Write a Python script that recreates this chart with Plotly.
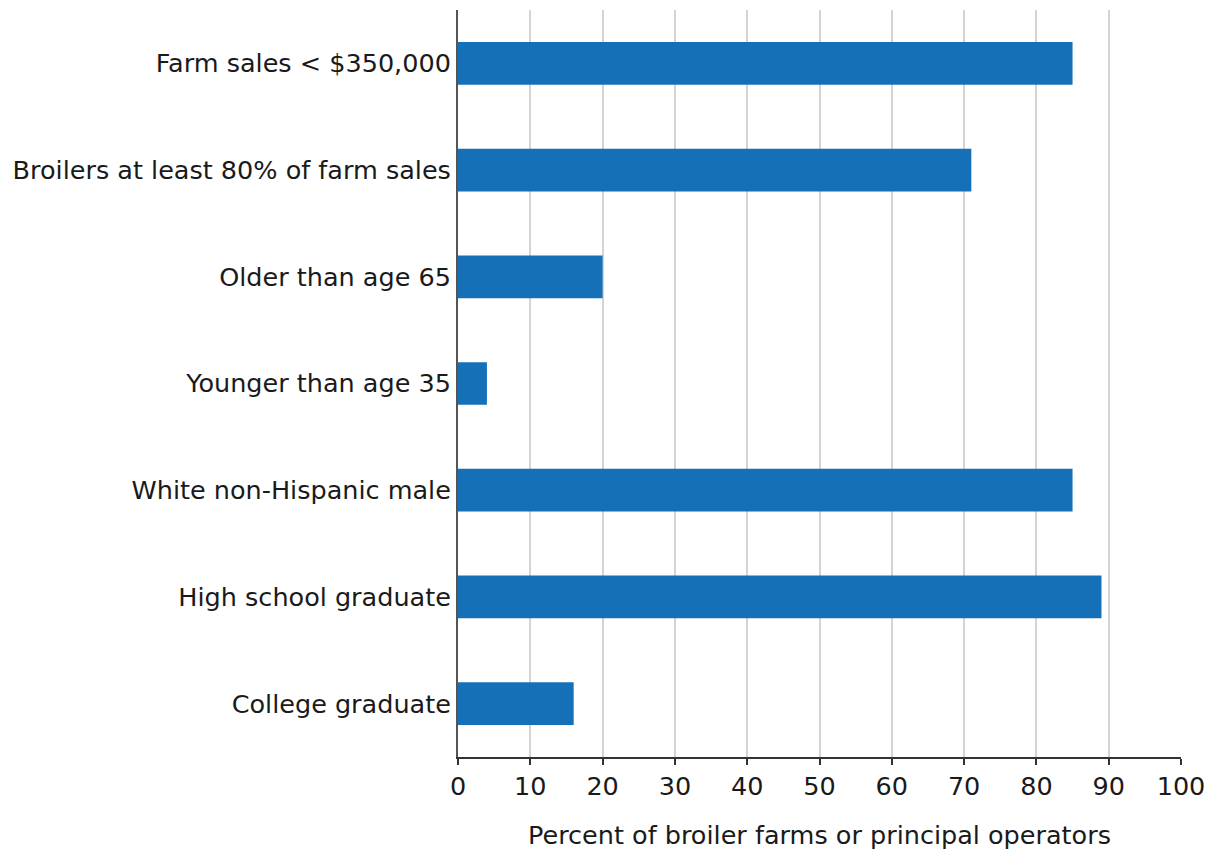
import plotly.graph_objects as go

categories = [
    "Farm sales < $350,000",
    "Broilers at least 80% of farm sales",
    "Older than age 65",
    "Younger than age 35",
    "White non-Hispanic male",
    "High school graduate",
    "College graduate",
]
values = [85, 71, 20, 4, 85, 89, 16]
x_ticks = [0, 10, 20, 30, 40, 50, 60, 70, 80, 90, 100]
x_title = "Percent of broiler farms or principal operators"

font_family = "DejaVu Sans, Liberation Sans, Arial, sans-serif"
text_color = "#1a1a1a"
fsize = 25.5

fig = go.Figure(
    go.Bar(
        x=values,
        y=categories,
        orientation="h",
        width=0.4,
        marker=dict(color="#1570b8", line=dict(width=0)),
        hoverinfo="x+y",
    )
)

fig.update_layout(
    width=1204,
    height=846,
    margin=dict(l=450, r=31, t=2, b=97, pad=0),
    paper_bgcolor="white",
    plot_bgcolor="white",
    showlegend=False,
    font=dict(family=font_family, size=fsize, color=text_color),
)

fig.update_xaxes(
    range=[0, 100],
    tickvals=x_ticks,
    ticktext=[str(t) for t in x_ticks],
    showgrid=True,
    gridcolor="#d4d4d4",
    gridwidth=1.5,
    zeroline=False,
    showline=True,
    linecolor="#333333",
    linewidth=1.5,
    ticks="outside",
    ticklen=6,
    tickcolor="#333333",
    tickwidth=1.5,
    tickfont=dict(size=fsize, color=text_color),
    title=dict(text=x_title, font=dict(size=fsize, color=text_color), standoff=26),
    fixedrange=True,
)

fig.update_yaxes(
    categoryorder="array",
    categoryarray=categories,
    autorange="reversed",
    showgrid=False,
    zeroline=False,
    showline=True,
    linecolor="#555555",
    linewidth=2,
    ticks="",
    ticklabelstandoff=0,
    tickfont=dict(size=fsize, color=text_color),
    fixedrange=True,
)

fig.write_html("out.html")
